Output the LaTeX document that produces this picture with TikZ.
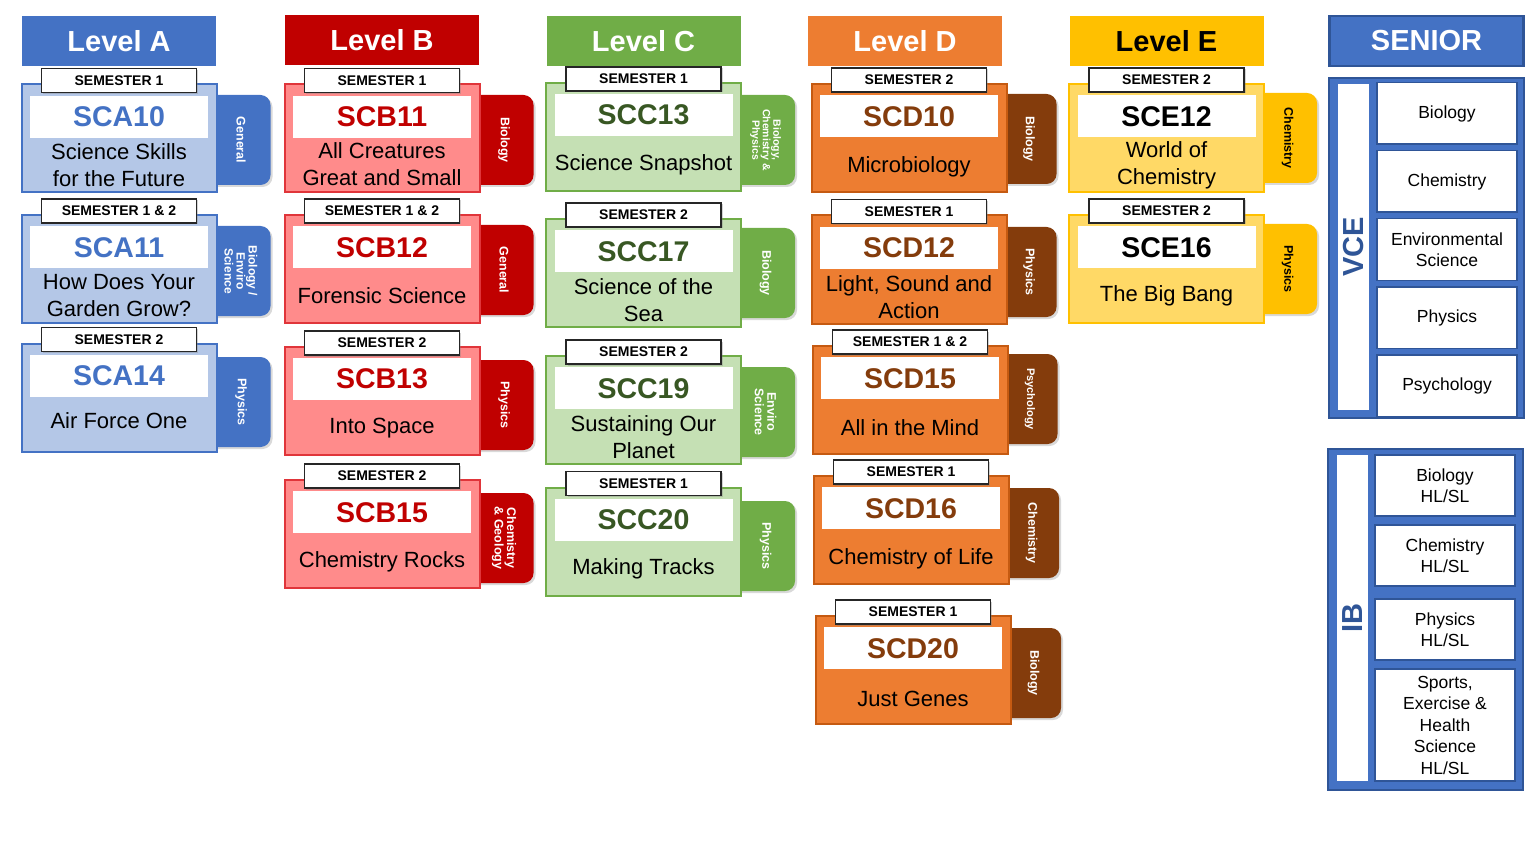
\documentclass[tikz,border=0pt]{standalone}
\usepackage{fontspec}
\setmainfont{Liberation Sans}
\usetikzlibrary{positioning,shadows}

\definecolor{blueA}{HTML}{4472C4}
\definecolor{blueAl}{HTML}{B4C7E7}
\definecolor{redB}{HTML}{C00000}
\definecolor{redBl}{HTML}{FF8B8B}
\definecolor{redBb}{HTML}{E0353A}
\definecolor{greenC}{HTML}{70AD47}
\definecolor{greenCl}{HTML}{C5E0B4}
\definecolor{greenCd}{HTML}{385723}
\definecolor{orangeD}{HTML}{ED7D31}
\definecolor{orangeDb}{HTML}{C55A11}
\definecolor{brownD}{HTML}{843C0C}
\definecolor{yellowE}{HTML}{FFC000}
\definecolor{yellowEl}{HTML}{FFD966}
\definecolor{navy}{HTML}{2F5597}

\begin{document}
\begin{tikzpicture}[x=1pt, y=-1pt,
	header/.style={rectangle, minimum width=194pt, minimum height=50pt, inner sep=0pt, text=white, font=\fontsize{29}{32}\selectfont\bfseries},
	card/.style={rectangle, line width=2pt, minimum width=195pt, minimum height=108pt, inner sep=0pt},
	band/.style={rectangle, fill=white, minimum width=178pt, minimum height=42pt, inner sep=0pt, font=\fontsize{28.5}{32}\selectfont\bfseries},
	title/.style={align=center, inner sep=0pt, font=\fontsize{22}{27}\selectfont},
	sem/.style={rectangle, draw=black!85, fill=white, line width=1.5pt, minimum width=155pt, minimum height=24pt, inner sep=0pt, font=\fontsize{14}{15}\selectfont\bfseries, drop shadow={shadow xshift=1.5pt, shadow yshift=-1.5pt, opacity=0.35}},
	tab/.style={rectangle, rounded corners=10pt, minimum width=66pt, minimum height=90pt, inner sep=0pt, drop shadow={shadow xshift=2pt, shadow yshift=-2pt, opacity=0.3}},
	tabtxt/.style={xshift=3.5pt, rotate=-90, align=center, inner sep=0pt, text=white, font=\fontsize{12.5}{12.5}\selectfont\bfseries},
	small/.style={font=\fontsize{12}{12}\selectfont\bfseries},
	cardA/.style={card, draw=blueA, fill=blueAl}, tabA/.style={tab, fill=blueA}, codeA/.style={band, text=blueA},
	cardB/.style={card, draw=redBb, fill=redBl}, tabB/.style={tab, fill=redB}, codeB/.style={band, text=redB},
	cardC/.style={card, draw=greenC, fill=greenCl}, tabC/.style={tab, fill=greenC}, codeC/.style={band, text=greenCd},
	cardD/.style={card, draw=orangeDb, fill=orangeD}, tabD/.style={tab, fill=brownD, minimum width=62pt}, codeD/.style={band, text=brownD},
	cardE/.style={card, draw=yellowE, fill=yellowEl}, tabE/.style={tab, fill=yellowE}, codeE/.style={band, text=black},
	senior/.style={rectangle, fill=blueA, draw=navy, line width=2.5pt, minimum width=195pt, inner sep=0pt},
	strip/.style={rectangle, fill=white, minimum width=31pt, inner sep=0pt},
	subj/.style={rectangle, draw=navy, fill=white, line width=1.5pt, minimum width=140pt, inner sep=0pt, align=center, font=\fontsize{17.5}{21.5}\selectfont},
	]
	\useasboundingbox (0,0) rectangle (1538,850);
	
	% Headers
	\node[header, fill=blueA] (hA) at (119,41) {Level A};
	\node[header, fill=redB] (hB) at (382,40.5) {Level B};
	\node[header, fill=greenC] (hC) at (643.5,41) {Level C};
	\node[header, fill=orangeD] (hD) at (905,41) {Level D};
	\node[header, fill=yellowE, text=black] (hE) at (1166.5,41) {Level E};
	\node[header, fill=blueA, draw=navy, line width=2.5pt] (hS) at (1426.5,41) {SENIOR};
	
	% Level A
	\node[tabA, label={[tabtxt]center:General}] (sca10t) at (237.5,140) {};
	\node[cardA] (sca10) at (119,138.5) {};
	\node[codeA, below=12pt of sca10.north] (sca10c) {SCA10};
	\node[title] (sca10n) at ([yshift=-27pt]sca10.center) {Science Skills\\for the Future};
	\node[sem] (sca10s) at ([yshift=3pt]sca10.north) {SEMESTER 1};
	
	\node[tabA, label={[tabtxt, small]center:Biology /\\Enviro\\Science}] (sca11t) at (237.5,271) {};
	\node[cardA] (sca11) at (119,269) {};
	\node[codeA, below=12pt of sca11.north] (sca11c) {SCA11};
	\node[title] (sca11n) at ([yshift=-27pt]sca11.center) {How Does Your\\Garden Grow?};
	\node[sem] (sca11s) at ([yshift=3pt]sca11.north) {SEMESTER 1 \& 2};
	
	\node[tabA, label={[tabtxt]center:Physics}] (sca14t) at (237.5,402) {};
	\node[cardA] (sca14) at (119,397.5) {};
	\node[codeA, below=12pt of sca14.north] (sca14c) {SCA14};
	\node[title] (sca14n) at ([yshift=-23pt]sca14.center) {Air Force One};
	\node[sem] (sca14s) at ([yshift=3pt]sca14.north) {SEMESTER 2};
	
	% Level B
	\node[tabB, label={[tabtxt]center:Biology}] (scb11t) at (500.5,140) {};
	\node[cardB] (scb11) at (382,138.5) {};
	\node[codeB, below=12pt of scb11.north] (scb11c) {SCB11};
	\node[title] (scb11n) at ([yshift=-26pt]scb11.center) {All Creatures\\Great and Small};
	\node[sem] (scb11s) at ([yshift=3pt]scb11.north) {SEMESTER 1};
	
	\node[tabB, label={[tabtxt]center:General}] (scb12t) at (500.5,270) {};
	\node[cardB] (scb12) at (382,269) {};
	\node[codeB, below=12pt of scb12.north] (scb12c) {SCB12};
	\node[title] (scb12n) at ([yshift=-27pt]scb12.center) {Forensic Science};
	\node[sem] (scb12s) at ([yshift=3pt]scb12.north) {SEMESTER 1 \& 2};
	
	\node[tabB, label={[tabtxt]center:Physics}] (scb13t) at (500.5,405) {};
	\node[cardB] (scb13) at (382,401) {};
	\node[codeB, below=12pt of scb13.north] (scb13c) {SCB13};
	\node[title] (scb13n) at ([yshift=-27pt]scb13.center) {Into Space};
	\node[sem] (scb13s) at ([yshift=3pt]scb13.north) {SEMESTER 2};
	
	\node[tabB, label={[tabtxt]center:Chemistry\\\& Geology}] (scb15t) at (500.5,538) {};
	\node[cardB] (scb15) at (382,534) {};
	\node[codeB, below=12pt of scb15.north] (scb15c) {SCB15};
	\node[title] (scb15n) at ([yshift=-28pt]scb15.center) {Chemistry Rocks};
	\node[sem] (scb15s) at ([yshift=3pt]scb15.north) {SEMESTER 2};
	
	% Level C
	\node[tabC, label={[tabtxt, font=\fontsize{10.5}{10.5}\selectfont\bfseries]center:{Biology,\\Chemistry \&\\Physics}}] (scc13t) at (762,140) {};
	\node[cardC] (scc13) at (643.5,137) {};
	\node[codeC, below=12pt of scc13.north] (scc13c) {SCC13};
	\node[title] (scc13n) at ([yshift=-28pt]scc13.center) {Science Snapshot};
	\node[sem] (scc13s) at ([yshift=3pt]scc13.north) {SEMESTER 1};
	
	\node[tabC, label={[tabtxt]center:Biology}] (scc17t) at (762,273) {};
	\node[cardC] (scc17) at (643.5,273) {};
	\node[codeC, below=12pt of scc17.north] (scc17c) {SCC17};
	\node[title] (scc17n) at ([yshift=-27.5pt]scc17.center) {Science of the\\Sea};
	\node[sem] (scc17s) at ([yshift=3pt]scc17.north) {SEMESTER 2};
	
	\node[tabC, label={[tabtxt]center:Enviro\\Science}] (scc19t) at (762,412) {};
	\node[cardC] (scc19) at (643.5,410) {};
	\node[codeC, below=12pt of scc19.north] (scc19c) {SCC19};
	\node[title] (scc19n) at ([yshift=-27pt]scc19.center) {Sustaining Our\\Planet};
	\node[sem] (scc19s) at ([yshift=3pt]scc19.north) {SEMESTER 2};
	
	\node[tabC, label={[tabtxt]center:Physics}] (scc20t) at (762,546) {};
	\node[cardC] (scc20) at (643.5,541.5) {};
	\node[codeC, below=12pt of scc20.north] (scc20c) {SCC20};
	\node[title] (scc20n) at ([yshift=-27pt]scc20.center) {Making Tracks};
	\node[sem] (scc20s) at ([yshift=3pt]scc20.north) {SEMESTER 1};
	
	% Level D
	\node[tabD, label={[tabtxt]center:Biology}] (scd10t) at (1025.5,139) {};
	\node[cardD] (scd10) at (909,138) {};
	\node[codeD, below=12pt of scd10.north] (scd10c) {SCD10};
	\node[title] (scd10n) at ([yshift=-29pt]scd10.center) {Microbiology};
	\node[sem] (scd10s) at ([yshift=3pt]scd10.north) {SEMESTER 2};
	
	\node[tabD, label={[tabtxt]center:Physics}] (scd12t) at (1025.5,272) {};
	\node[cardD] (scd12) at (909,269.5) {};
	\node[codeD, below=12pt of scd12.north] (scd12c) {SCD12};
	\node[title] (scd12n) at ([yshift=-28pt]scd12.center) {Light, Sound and\\Action};
	\node[sem] (scd12s) at ([yshift=3pt]scd12.north) {SEMESTER 1};
	
	\node[tabD, label={[tabtxt, font=\fontsize{11}{11}\selectfont\bfseries]center:Psychology}] (scd15t) at (1026.5,399) {};
	\node[cardD] (scd15) at (910,400) {};
	\node[codeD, below=12pt of scd15.north] (scd15c) {SCD15};
	\node[title] (scd15n) at ([yshift=-28pt]scd15.center) {All in the Mind};
	\node[sem] (scd15s) at ([yshift=3pt]scd15.north) {SEMESTER 1 \& 2};
	
	\node[tabD, label={[tabtxt]center:Chemistry}] (scd16t) at (1028,533) {};
	\node[cardD] (scd16) at (911,530) {};
	\node[codeD, below=12pt of scd16.north] (scd16c) {SCD16};
	\node[title] (scd16n) at ([yshift=-29pt]scd16.center) {Chemistry of Life};
	\node[sem] (scd16s) at ([yshift=3pt]scd16.north) {SEMESTER 1};
	
	\node[tabD, label={[tabtxt]center:Biology}] (scd20t) at (1030,673) {};
	\node[cardD] (scd20) at (913,670) {};
	\node[codeD, below=12pt of scd20.north] (scd20c) {SCD20};
	\node[title] (scd20n) at ([yshift=-29pt]scd20.center) {Just Genes};
	\node[sem] (scd20s) at ([yshift=3pt]scd20.north) {SEMESTER 1};
	
	% Level E
	\node[tabE, label={[tabtxt, text=black]center:Chemistry}] (sce12t) at (1284,138) {};
	\node[cardE] (sce12) at (1166.5,138) {};
	\node[codeE, below=12pt of sce12.north] (sce12c) {SCE12};
	\node[title] (sce12n) at ([yshift=-27pt]sce12.center) {World of\\Chemistry};
	\node[sem] (sce12s) at ([yshift=3pt]sce12.north) {SEMESTER 2};
	
	\node[tabE, label={[tabtxt, text=black]center:Physics}] (sce16t) at (1284,269) {};
	\node[cardE] (sce16) at (1166.5,269) {};
	\node[codeE, below=12pt of sce16.north] (sce16c) {SCE16};
	\node[title] (sce16n) at ([yshift=-27pt]sce16.center) {The Big Bang};
	\node[sem] (sce16s) at ([yshift=3pt]sce16.north) {SEMESTER 2};
	
	% Senior - VCE
	\node[senior, minimum height=340pt] (vce) at (1426.5,248) {};
	\node[strip, minimum height=326pt] (vces) at (1353.5,247) {};
	\node[rotate=90, text=navy, font=\fontsize{29}{30}\selectfont\bfseries] (vcet) at (vces.center) {VCE};
	\node[subj, minimum height=61.5pt] (vce1) at (1447,113.5) {Biology};
	\node[subj, minimum height=61.5pt, below=5pt of vce1] (vce2) {Chemistry};
	\node[subj, minimum height=61.5pt, below=5pt of vce2] (vce3) {Environmental\\Science};
	\node[subj, minimum height=61.5pt, below=5pt of vce3] (vce4) {Physics};
	\node[subj, minimum height=61.5pt, below=5pt of vce4] (vce5) {Psychology};
	
	% Senior - IB
	\node[senior, minimum height=341pt] (ib) at (1425.5,619.5) {};
	\node[strip, minimum height=326pt] (ibs) at (1352.5,618) {};
	\node[rotate=90, text=navy, font=\fontsize{29}{30}\selectfont\bfseries] (ibt) at (ibs.center) {IB};
	\node[subj, minimum height=61pt] (ib1) at (1445,485.5) {Biology\\HL/SL};
	\node[subj, minimum height=61pt] (ib2) at (1445,555.5) {Chemistry\\HL/SL};
	\node[subj, minimum height=61pt] (ib3) at (1445,629.5) {Physics\\HL/SL};
	\node[subj, minimum height=112pt] (ib4) at (1445,725) {Sports,\\Exercise \&\\Health\\Science\\HL/SL};
\end{tikzpicture}
\end{document}
